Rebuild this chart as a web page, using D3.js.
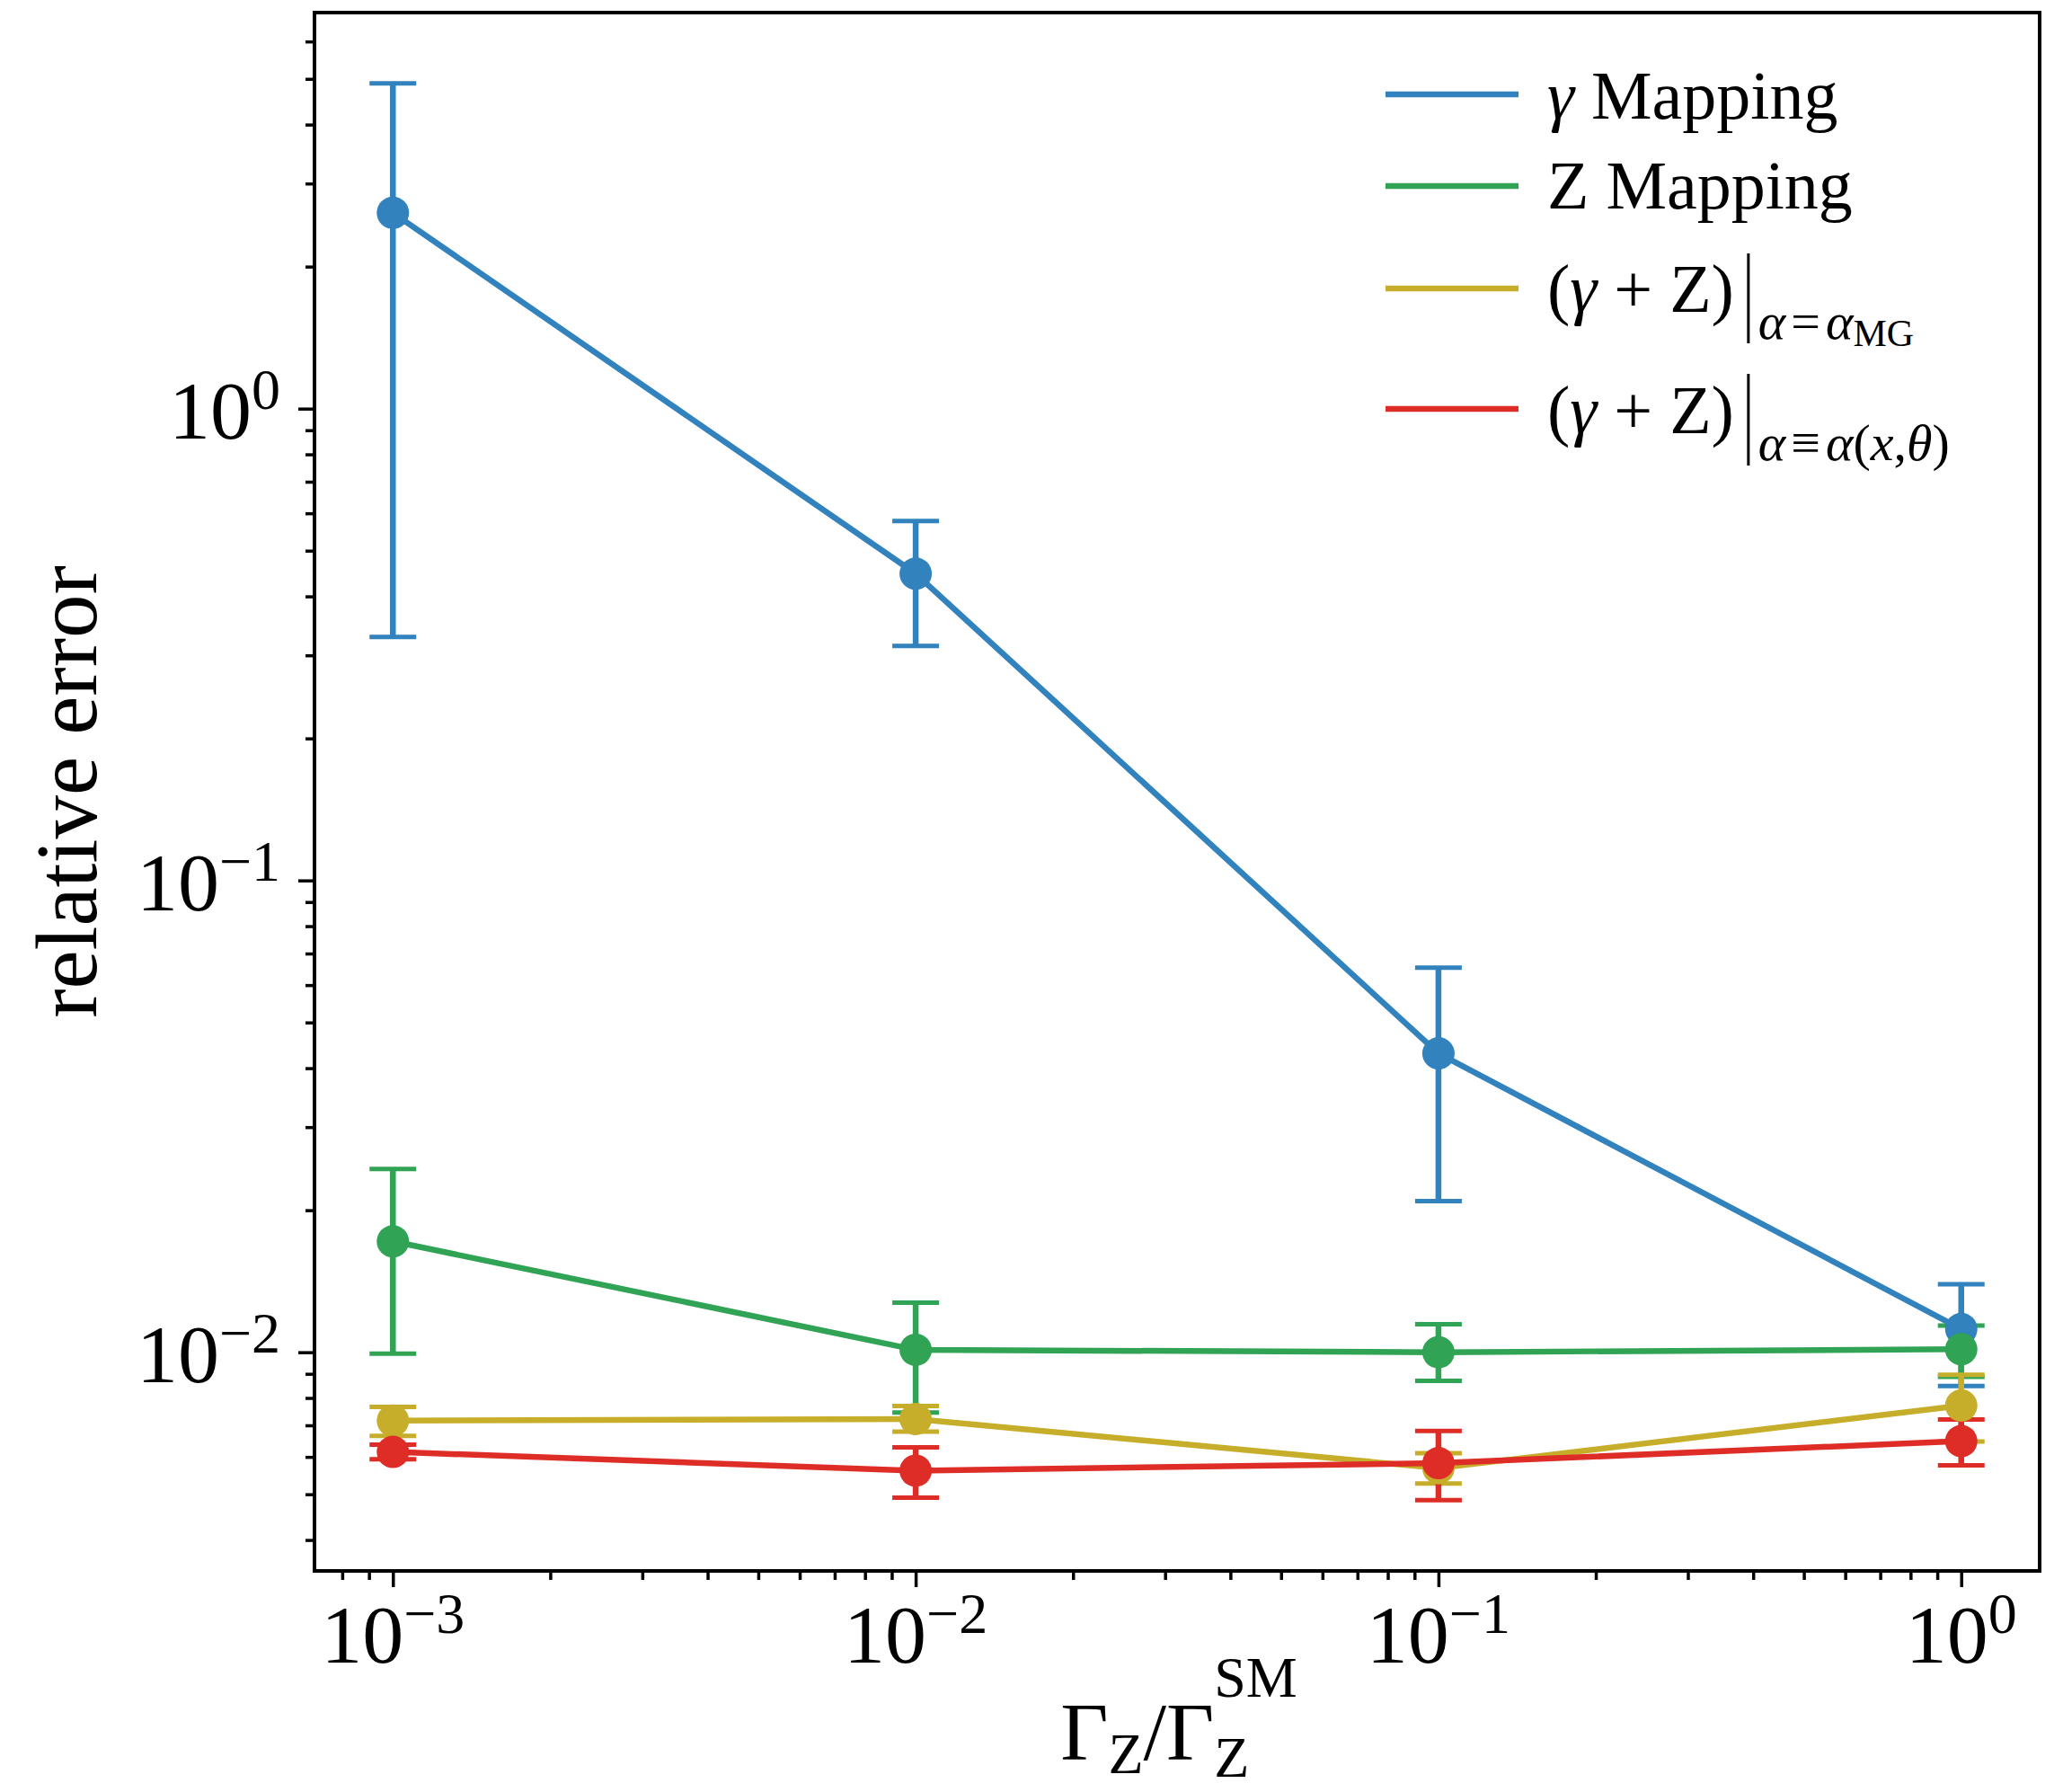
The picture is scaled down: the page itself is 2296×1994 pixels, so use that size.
<!DOCTYPE html>
<html>
<head>
<meta charset="utf-8">
<script src="https://cdn.jsdelivr.net/npm/d3@7"></script>
<style>
  body { margin: 0; background: #fff; }
  svg { display: block; }
  text { font-family: "Liberation Serif", "DejaVu Serif", serif; fill: #000; white-space: pre; }
</style>
</head>
<body>
<svg id="chart" width="2296" height="1994"></svg>
<script>
// Z-width ratio scanned (x) and the relative error of each method (y)
const widthRatio = [1e-3, 1e-2, 1e-1, 1];

const gammaVal = [2.60, 0.447, 0.0430, 0.0112];
const gammaLo  = [0.328, 0.314, 0.0209, 0.00848];
const gammaHi  = [4.89, 0.578, 0.0653, 0.01393];

const zVal = [0.01718, 0.01012, 0.0100, 0.01015];
const zLo  = [0.00993, 0.00745, 0.0087, 0.00887];
const zHi  = [0.02446, 0.01274, 0.01146, 0.01139];

const mgVal = [0.00716, 0.00722, 0.00568, 0.00771];
const mgLo  = [0.00665, 0.00679, 0.00527, 0.00647];
const mgHi  = [0.00766, 0.00769, 0.00611, 0.00896];

const axVal = [0.00615, 0.00561, 0.00582, 0.00648];
const axLo  = [0.00593, 0.00492, 0.00486, 0.00576];
const axHi  = [0.00637, 0.00629, 0.00681, 0.00720];

const seriesColors = ["#3182bd", "#31a354", "#c6ae2a", "#de2d26"];

const xTickExponents = [-3, -2, -1, 0];
const yTickExponents = [-2, -1, 0];

const series = [
  { val: gammaVal, lo: gammaLo, hi: gammaHi, color: seriesColors[0] },
  { val: zVal,     lo: zLo,     hi: zHi,     color: seriesColors[1] },
  { val: mgVal,    lo: mgLo,    hi: mgHi,    color: seriesColors[2] },
  { val: axVal,    lo: axLo,    hi: axHi,    color: seriesColors[3] }
];

const svg = d3.select("#chart");
const plot = { left: 350, right: 2270, top: 14, bottom: 1748 };

// log axes with 5% padding (in decades) around the data
function paddedLogDomain(lo, hi) {
  const a = Math.log10(lo), b = Math.log10(hi), p = 0.05 * (b - a);
  return [10 ** (a - p), 10 ** (b + p)];
}
const x = d3.scaleLog()
  .domain(paddedLogDomain(d3.min(widthRatio), d3.max(widthRatio)))
  .range([plot.left, plot.right]);
const allLo = series.flatMap(s => s.lo), allHi = series.flatMap(s => s.hi);
const y = d3.scaleLog()
  .domain(paddedLogDomain(d3.min(allLo), d3.max(allHi)))
  .range([plot.bottom, plot.top]);

function minorTicks(scale) {
  const [d0, d1] = scale.domain();
  const out = [];
  for (let e = Math.floor(Math.log10(d0)) - 1; e <= Math.ceil(Math.log10(d1)); e++) {
    for (let m = 2; m <= 9; m++) {
      const v = m * 10 ** e;
      if (v >= d0 && v <= d1) out.push(v);
    }
  }
  return out;
}

function styleAxis(g) {
  g.select(".domain").remove();
  g.selectAll(".tick line").attr("stroke", "#000").attr("stroke-width", 3.5);
  g.selectAll(".tick text").remove();
}

// x axis
svg.append("g").attr("transform", `translate(0,${plot.bottom})`)
  .call(d3.axisBottom(x).tickValues(minorTicks(x)).tickSize(10).tickFormat(""))
  .call(styleAxis);
svg.append("g").attr("transform", `translate(0,${plot.bottom})`)
  .call(d3.axisBottom(x).tickValues(xTickExponents.map(e => 10 ** e)).tickSize(18).tickFormat(""))
  .call(styleAxis);

// y axis
svg.append("g").attr("transform", `translate(${plot.left},0)`)
  .call(d3.axisLeft(y).tickValues(minorTicks(y)).tickSize(10).tickFormat(""))
  .call(styleAxis);
svg.append("g").attr("transform", `translate(${plot.left},0)`)
  .call(d3.axisLeft(y).tickValues(yTickExponents.map(e => 10 ** e)).tickSize(18).tickFormat(""))
  .call(styleAxis);

function powerLabel(sel, e) {
  sel.append("tspan").style("font-size", "92px").text("10");
  sel.append("tspan").style("font-size", "64px").attr("dy", -33)
    .text(e < 0 ? "\u2212" + (-e) : String(e));
}

xTickExponents.forEach(e => {
  const t = svg.append("text").attr("x", x(10 ** e)).attr("y", 1850)
    .attr("text-anchor", "middle");
  powerLabel(t, e);
});
yTickExponents.forEach(e => {
  const t = svg.append("text").attr("x", 312).attr("y", y(10 ** e) + 33)
    .attr("text-anchor", "end");
  powerLabel(t, e);
});

// error bars (beneath all data lines)
const capHalf = 26;
series.forEach(s => {
  const g = svg.append("g").attr("stroke", s.color).attr("fill", "none");
  widthRatio.forEach((w, i) => {
    const cx = x(w);
    g.append("line").attr("x1", cx).attr("x2", cx)
      .attr("y1", y(s.lo[i])).attr("y2", y(s.hi[i])).attr("stroke-width", 6.5);
    [s.lo[i], s.hi[i]].forEach(v => {
      g.append("line").attr("x1", cx - capHalf).attr("x2", cx + capHalf)
        .attr("y1", y(v)).attr("y2", y(v)).attr("stroke-width", 5);
    });
  });
});

// data lines and markers
const line = d3.line().x(d => x(d[0])).y(d => y(d[1]));
series.forEach(s => {
  const pts = widthRatio.map((w, i) => [w, s.val[i]]);
  svg.append("path").datum(pts).attr("d", line)
    .attr("fill", "none").attr("stroke", s.color).attr("stroke-width", 6.5)
    .attr("stroke-linejoin", "round");
  svg.append("g").selectAll("circle").data(pts).join("circle")
    .attr("cx", d => x(d[0])).attr("cy", d => y(d[1])).attr("r", 18)
    .attr("fill", s.color);
});

// frame
svg.append("rect")
  .attr("x", plot.left).attr("y", plot.top)
  .attr("width", plot.right - plot.left).attr("height", plot.bottom - plot.top)
  .attr("fill", "none").attr("stroke", "#000").attr("stroke-width", 4);

// text runs laid out left to right
function runs(parent, x0, baseline, items) {
  let cx = x0;
  items.forEach(r => {
    if (r.gap) { cx += r.gap; return; }
    if (r.bar) {
      parent.append("line").attr("x1", cx).attr("x2", cx)
        .attr("y1", r.top).attr("y2", r.bottom)
        .attr("stroke", "#000").attr("stroke-width", 3);
      cx += 3;
      return;
    }
    if (r.stack) {
      let wmax = 0;
      r.stack.forEach(p => {
        const t = parent.append("text").attr("x", cx).attr("y", baseline + p.shift)
          .style("font-size", p.size + "px").text(p.t);
        wmax = Math.max(wmax, t.node().getComputedTextLength());
      });
      cx += wmax;
      return;
    }
    const t = parent.append("text").attr("x", cx).attr("y", baseline + (r.shift || 0))
      .style("font-size", r.size + "px")
      .style("font-style", r.italic ? "italic" : "normal")
      .text(r.t);
    cx += t.node().getComputedTextLength();
  });
  return cx;
}

// legend
const legend = svg.append("g");
const sub = 58, subShift = 30;
const legendRows = [
  { y: 105, base: 132, items: [{ t: "\u03b3", italic: true, size: 76 }, { t: " Mapping", size: 76 }] },
  { y: 207, base: 232, items: [{ t: "Z Mapping", size: 76 }] },
  { y: 321, base: 347, items: [
      { t: "(", size: 76 }, { t: "\u03b3", italic: true, size: 76 }, { t: " + Z)", size: 76 },
      { gap: 16 }, { bar: true, top: 282, bottom: 382 }, { gap: 8 },
      { t: "\u03b1", italic: true, size: sub, shift: subShift }, { gap: 6 },
      { t: "=", size: sub, shift: subShift }, { gap: 6 },
      { t: "\u03b1", italic: true, size: sub, shift: subShift }, { t: "MG", size: 42, shift: subShift + 8 }
    ] },
  { y: 455, base: 482, items: [
      { t: "(", size: 76 }, { t: "\u03b3", italic: true, size: 76 }, { t: " + Z)", size: 76 },
      { gap: 16 }, { bar: true, top: 416, bottom: 518 }, { gap: 8 },
      { t: "\u03b1", italic: true, size: sub, shift: subShift }, { gap: 6 },
      { t: "\u2261", size: sub, shift: subShift }, { gap: 6 },
      { t: "\u03b1", italic: true, size: sub, shift: subShift }, { t: "(", size: sub, shift: subShift },
      { t: "x", italic: true, size: sub, shift: subShift }, { t: ",", size: sub, shift: subShift },
      { t: "\u03b8", italic: true, size: sub, shift: subShift }, { t: ")", size: sub, shift: subShift }
    ] }
];
legendRows.forEach((row, i) => {
  legend.append("line").attr("x1", 1542).attr("x2", 1690)
    .attr("y1", row.y).attr("y2", row.y)
    .attr("stroke", seriesColors[i]).attr("stroke-width", 6.5);
  runs(legend, 1722, row.base, row.items);
});

// x axis label: Γ_Z / Γ_Z^SM
const xl = svg.append("g");
runs(xl, 0, 1958, [
  { t: "\u0393", size: 92 },
  { t: "Z", size: 64, shift: 15 },
  { t: "/", size: 92 },
  { t: "\u0393", size: 92 },
  { stack: [{ t: "SM", size: 64, shift: -70 }, { t: "Z", size: 64, shift: 19 }] }
]);
const xb = xl.node().getBBox();
xl.attr("transform", `translate(${1312 - xb.width / 2 - xb.x},0)`);

// y axis label
svg.append("text")
  .attr("transform", `translate(107,${(plot.top + plot.bottom) / 2}) rotate(-90)`)
  .attr("text-anchor", "middle")
  .style("font-size", "97px")
  .text("relative error");
</script>
</body>
</html>
